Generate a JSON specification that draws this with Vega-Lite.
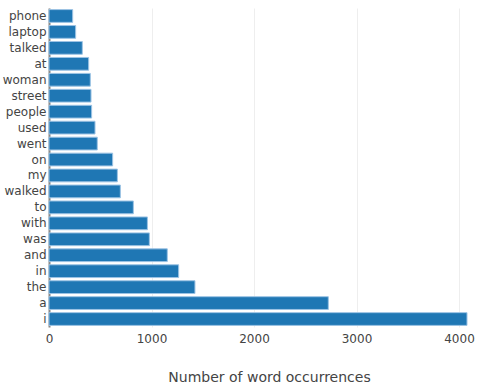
{
  "$schema": "https://vega.github.io/schema/vega-lite/v6.json",
  "autosize": {"type": "none"},
  "width": 418,
  "height": 319,
  "padding": {"left": 49, "top": 8, "right": 18, "bottom": 59},
  "background": "white",
  "data": {"values": [
    {"word": "phone", "count": 231},
    {"word": "laptop", "count": 260},
    {"word": "talked", "count": 325},
    {"word": "at", "count": 387},
    {"word": "woman", "count": 403},
    {"word": "street", "count": 410},
    {"word": "people", "count": 416},
    {"word": "used", "count": 449},
    {"word": "went", "count": 471},
    {"word": "on", "count": 621},
    {"word": "my", "count": 667},
    {"word": "walked", "count": 696},
    {"word": "to", "count": 823},
    {"word": "with", "count": 960},
    {"word": "was", "count": 979},
    {"word": "and", "count": 1154},
    {"word": "in", "count": 1265},
    {"word": "the", "count": 1424},
    {"word": "a", "count": 2725},
    {"word": "i", "count": 4078}
  ]},
  "mark": {"type": "bar", "color": "#1f77b4", "stroke": "#9cc3e4", "strokeWidth": 1},
  "encoding": {
    "y": {
      "field": "word", "type": "nominal", "sort": "x",
      "scale": {"paddingInner": 0.2, "paddingOuter": 0.1},
      "axis": {"title": null, "ticks": false, "labelFont": "DejaVu Sans", "labelFontSize": 12, "labelColor": "#444", "labelPadding": 3, "domainColor": "#888", "domainWidth": 2, "grid": false}
    },
    "x": {
      "field": "count", "type": "quantitative",
      "scale": {"domain": [0, 4078], "nice": false},
      "axis": {"values": [0, 1000, 2000, 3000, 4000], "format": "d", "title": "Number of word occurrences", "titleFont": "DejaVu Sans", "titleFontSize": 14, "titleFontWeight": "normal", "titleColor": "#444", "titleX": 220, "titleY": 54, "titleBaseline": "alphabetic", "labelFont": "DejaVu Sans", "labelFontSize": 12, "labelColor": "#444", "labelPadding": 6, "ticks": false, "domain": false, "grid": true, "gridColor": "#eee", "gridWidth": 1, "labelFlush": false}
    }
  },
  "config": {"view": {"stroke": null}}
}
